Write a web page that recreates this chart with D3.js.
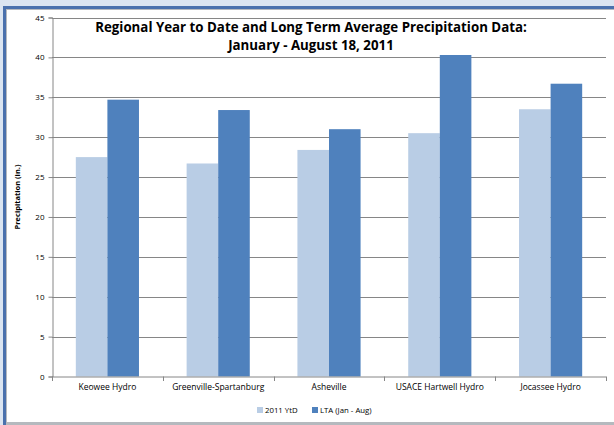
<!DOCTYPE html>
<html>
<head>
<meta charset="utf-8">
<script src="https://cdn.jsdelivr.net/npm/d3@7"></script>
<style>
  html, body { margin: 0; padding: 0; background: #dbe5f1; }
  svg { display: block; }
  text { font-family: "Open Sans", "Liberation Sans", sans-serif; fill: #000; }
</style>
</head>
<body>
<svg id="chart" width="614" height="425"></svg>
<script>
// Precipitation by station, inches
const categories = ["Keowee Hydro", "Greenville-Spartanburg", "Asheville", "USACE Hartwell Hydro", "Jocassee Hydro"];
const ytd2011 = [27.5, 26.7, 28.4, 30.5, 33.5];
const ltaJanAug = [34.7, 33.4, 31.0, 40.3, 36.7];
const seriesNames = ["2011 YtD", "LTA (Jan - Aug)"];
const seriesColors = ["#b9cde5", "#4f81bd"];
const yTicks = [0, 5, 10, 15, 20, 25, 30, 35, 40, 45];
const titleLines = ["Regional Year to Date and Long Term Average Precipitation Data:", "January - August 18, 2011"];

const svg = d3.select("#chart");

// frame: pale blue surround, dark blue top/left edge, white chart area
svg.append("rect").attr("x", 0).attr("y", 0).attr("width", 614).attr("height", 425).attr("fill", "#dbe5f1");
svg.append("rect").attr("x", 3).attr("y", 6).attr("width", 611).attr("height", 419).attr("fill", "#4a71ad");
svg.append("rect").attr("x", 6).attr("y", 9).attr("width", 608).attr("height", 416).attr("fill", "#b5b9be");
svg.append("rect").attr("x", 7).attr("y", 10).attr("width", 607).attr("height", 412).attr("fill", "#ffffff");

const plot = { left: 52, right: 606, top: 17.5, bottom: 376.5 };

const x = d3.scaleBand().domain(categories).range([plot.left, plot.right]).padding(0);
const barW = x.bandwidth() * 0.285;
const y = d3.scaleLinear().domain([0, 45]).range([plot.bottom, plot.top]);

// gridlines
svg.append("g").selectAll("line").data(yTicks.filter(d => d > 0)).join("line")
  .attr("x1", plot.left).attr("x2", plot.right)
  .attr("y1", d => Math.round(y(d)) + 0.5).attr("y2", d => Math.round(y(d)) + 0.5)
  .attr("stroke", "#868686").attr("stroke-width", 1);

// bars
const series = [ytd2011, ltaJanAug];
series.forEach((vals, si) => {
  svg.append("g").selectAll("rect").data(vals).join("rect")
    .attr("x", (d, i) => x(categories[i]) + x.bandwidth() / 2 - barW + si * barW)
    .attr("width", barW)
    .attr("y", d => y(d))
    .attr("height", d => y(0) - y(d))
    .attr("fill", seriesColors[si]);
});

// y axis
const yAxis = d3.axisLeft(y).tickValues(yTicks).tickSize(4).tickPadding(4);
const gy = svg.append("g").attr("transform", `translate(${plot.left + 0.5},0)`).call(yAxis);
gy.select(".domain").attr("stroke", "#868686");
gy.selectAll(".tick line").attr("stroke", "#868686");
gy.selectAll(".tick text").attr("font-size", 8).attr("font-family", "'Open Sans', sans-serif");

// x axis with ticks on category boundaries
svg.append("line").attr("x1", plot.left).attr("x2", plot.right)
  .attr("y1", plot.bottom + 0.5).attr("y2", plot.bottom + 0.5).attr("stroke", "#868686");
const bounds = categories.map(c => x(c)).concat([x(categories[categories.length - 1]) + x.bandwidth()]);
svg.append("g").selectAll("line").data(bounds).join("line")
  .attr("x1", d => Math.round(d) + 0.5).attr("x2", d => Math.round(d) + 0.5)
  .attr("y1", plot.bottom).attr("y2", plot.bottom + 4.5).attr("stroke", "#868686");
svg.append("g").selectAll("text").data(categories).join("text")
  .attr("x", d => x(d) + x.bandwidth() / 2).attr("y", 390)
  .attr("text-anchor", "middle").attr("font-size", 8.5).text(d => d);

// y axis title
svg.append("text").attr("transform", "translate(20,197) rotate(-90)")
  .attr("text-anchor", "middle").attr("font-size", 7.5).attr("font-weight", "bold")
  .text("Precipitation (in.)");

// chart title
svg.append("g").selectAll("text").data(titleLines).join("text")
  .attr("x", 311).attr("y", (d, i) => 32 + i * 18)
  .attr("text-anchor", "middle").attr("font-size", 13.3).attr("font-weight", "bold")
  .text(d => d);

// legend
const legend = svg.append("g");
const legendItems = [{ x: 257, name: seriesNames[0], color: seriesColors[0] }, { x: 312, name: seriesNames[1], color: seriesColors[1] }];
legendItems.forEach(it => {
  legend.append("rect").attr("x", it.x).attr("y", 407).attr("width", 6).attr("height", 6).attr("fill", it.color);
  legend.append("text").attr("x", it.x + 8).attr("y", 413).attr("font-size", 7.8).text(it.name);
});
</script>
</body>
</html>
